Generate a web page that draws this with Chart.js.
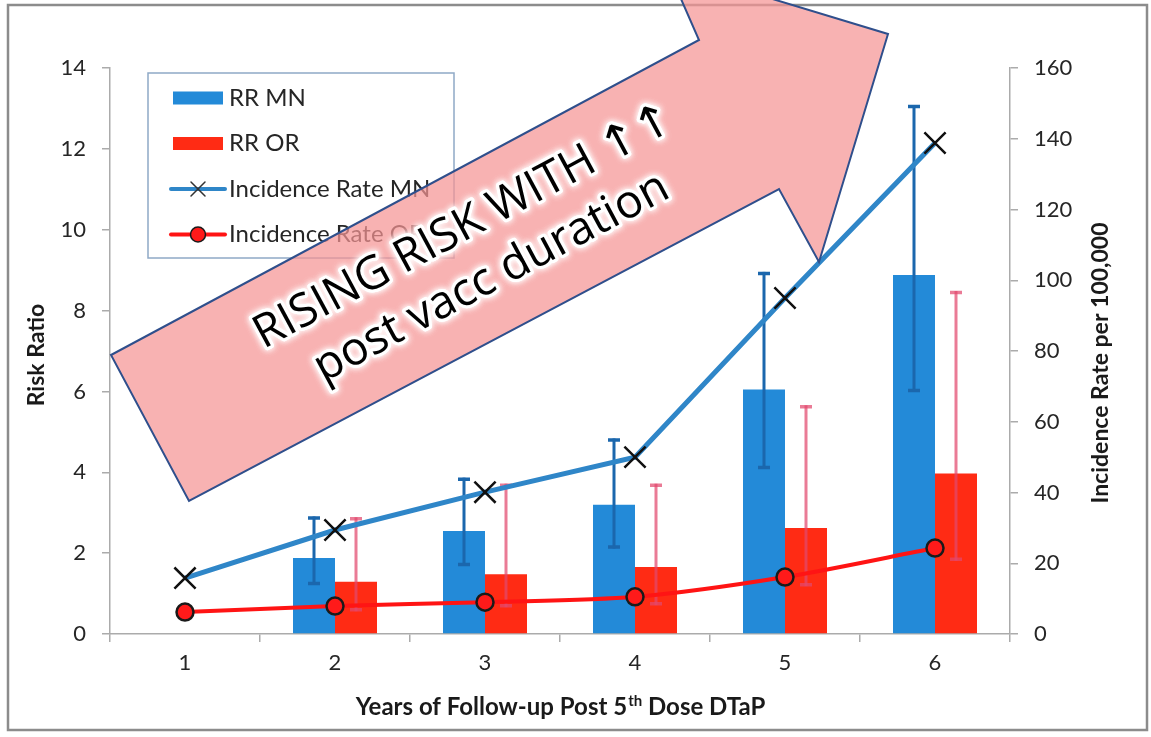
<!DOCTYPE html>
<html>
<head>
<meta charset="utf-8">
<title>Risk ratio and incidence rate by years since 5th DTaP dose</title>
<script src="https://cdn.jsdelivr.net/npm/chart.js@4.4.1/dist/chart.umd.min.js"></script>
<style>
  html, body { margin: 0; padding: 0; background: #ffffff; }
  canvas { display: block; }
</style>
</head>
<body>
<canvas id="chart" width="1151" height="737"></canvas>
<script>
// ---- data -------------------------------------------------------------
const years = ['1', '2', '3', '4', '5', '6'];

const riskRatioMN     = [null, 1.88, 2.55, 3.20, 6.05, 8.88];
const riskRatioMNLow  = [null, 1.25, 1.72, 2.15, 4.12, 6.02];
const riskRatioMNHigh = [null, 2.87, 3.83, 4.80, 8.92, 13.05];

const riskRatioOR     = [null, 1.29, 1.48, 1.66, 2.62, 3.97];
const riskRatioORLow  = [null, 0.60, 0.70, 0.75, 1.22, 1.85];
const riskRatioORHigh = [null, 2.85, 3.68, 3.68, 5.62, 8.45];

const incidenceMN = [15.8, 29.4, 40.1, 50.0, 95.0, 138.8];
const incidenceOR = [6.2, 7.9, 9.0, 10.5, 16.1, 24.3];

const riskTicks      = [0, 2, 4, 6, 8, 10, 12, 14];
const incidenceTicks = [0, 20, 40, 60, 80, 100, 120, 140, 160];

const seriesNames = ['RR MN', 'RR OR', 'Incidence Rate MN', 'Incidence Rate OR'];
const xTitleParts = ['Years of Follow-up Post 5', 'th', ' Dose DTaP'];
const yTitle  = 'Risk Ratio';
const y2Title = 'Incidence Rate per 100,000';
const calloutLines = ['RISING RISK WITH \u2191\u2191', 'post vacc duration'];

// ---- styling ----------------------------------------------------------
const LABEL_FONT = 'Lato, "Open Sans", sans-serif';
const TEXT_COLOR = '#262626';
const AXIS_COLOR = '#ababab';

// whiskers for the risk-ratio bars, drawn right after each bar dataset
const errorBarPlugin = {
  id: 'errorBars',
  afterDatasetDraw(chart, args) {
    const ds = chart.data.datasets[args.index];
    if (!ds.errorLow) return;
    const yScale = chart.scales[ds.yAxisID];
    const ctx = chart.ctx;
    ctx.save();
    ctx.strokeStyle = ds.errorColor;
    ctx.lineCap = 'butt';
    args.meta.data.forEach((bar, i) => {
      const lo = ds.errorLow[i], hi = ds.errorHigh[i];
      if (lo == null || hi == null) return;
      const x = bar.x;
      const yl = yScale.getPixelForValue(lo);
      const yh = yScale.getPixelForValue(hi);
      ctx.lineWidth = 3;
      ctx.beginPath();
      ctx.moveTo(x, yl + 1.5);
      ctx.lineTo(x, yh - 1.5);
      ctx.stroke();
      ctx.lineWidth = 3.5;
      ctx.beginPath();
      ctx.moveTo(x - 6, yh); ctx.lineTo(x + 6, yh);
      ctx.moveTo(x - 6, yl); ctx.lineTo(x + 6, yl);
      ctx.stroke();
    });
    ctx.restore();
  }
};

// legend box, axis titles, outer frame and the callout arrow
const decorPlugin = {
  id: 'decor',
  afterDraw(chart) {
    const ctx = chart.ctx;
    const area = chart.chartArea;

    // legend
    const box = { x: 148, y: 73, w: 306, h: 185 };
    ctx.save();
    ctx.fillStyle = '#ffffff';
    ctx.fillRect(box.x, box.y, box.w, box.h);
    ctx.strokeStyle = '#8fa9c6';
    ctx.lineWidth = 1.5;
    ctx.strokeRect(box.x, box.y, box.w, box.h);
    ctx.font = '24px ' + LABEL_FONT;
    ctx.textBaseline = 'middle';
    ctx.textAlign = 'left';
    chart.data.datasets.forEach((ds, i) => {
      const cy = box.y + 25 + i * 45.5;
      const sx = 173, sw = 50;
      if (ds.type === 'bar') {
        ctx.fillStyle = ds.backgroundColor;
        ctx.fillRect(sx, cy - 6.5, sw, 13);
      } else {
        ctx.strokeStyle = ds.borderColor;
        ctx.lineWidth = 4;
        ctx.lineCap = 'round';
        ctx.beginPath();
        ctx.moveTo(sx - 2, cy); ctx.lineTo(sx + sw + 2, cy);
        ctx.stroke();
        const mx = sx + sw / 2;
        if (ds.pointStyle === 'crossRot') {
          ctx.strokeStyle = '#333';
          ctx.lineWidth = 1.5;
          ctx.beginPath();
          ctx.moveTo(mx - 7, cy - 7); ctx.lineTo(mx + 7, cy + 7);
          ctx.moveTo(mx + 7, cy - 7); ctx.lineTo(mx - 7, cy + 7);
          ctx.stroke();
        } else {
          ctx.fillStyle = ds.pointBackgroundColor;
          ctx.strokeStyle = ds.pointBorderColor;
          ctx.lineWidth = 1.5;
          ctx.beginPath();
          ctx.arc(mx, cy, 7.5, 0, Math.PI * 2);
          ctx.fill();
          ctx.stroke();
        }
      }
      ctx.fillStyle = TEXT_COLOR;
      ctx.fillText(ds.label, 229, cy);
    });
    ctx.restore();

    // axis titles
    ctx.save();
    ctx.fillStyle = '#1a1a1a';
    ctx.font = 'bold 23px ' + LABEL_FONT;
    ctx.textAlign = 'center';
    ctx.textBaseline = 'middle';
    ctx.save();
    ctx.translate(37, (area.top + area.bottom) / 2 + 4);
    ctx.rotate(-Math.PI / 2);
    ctx.fillText(yTitle, 0, 0);
    ctx.restore();
    ctx.save();
    ctx.translate(1101, (area.top + area.bottom) / 2 + 12);
    ctx.rotate(-Math.PI / 2);
    ctx.fillText(y2Title, 0, 0);
    ctx.restore();

    // x title with superscript ordinal
    const big = 'bold 24px ' + LABEL_FONT;
    const small = 'bold 15px ' + LABEL_FONT;
    ctx.textAlign = 'left';
    ctx.textBaseline = 'alphabetic';
    ctx.font = big;
    const w0 = ctx.measureText(xTitleParts[0]).width;
    const w2 = ctx.measureText(xTitleParts[2]).width;
    ctx.font = small;
    const w1 = ctx.measureText(xTitleParts[1]).width;
    let tx = (area.left + area.right) / 2 - (w0 + w1 + w2) / 2;
    const baseY = 715;
    ctx.font = big;
    ctx.fillText(xTitleParts[0], tx, baseY); tx += w0;
    ctx.font = small;
    ctx.fillText(xTitleParts[1], tx + 1, baseY - 9); tx += w1 + 1;
    ctx.font = big;
    ctx.fillText(xTitleParts[2], tx, baseY);
    ctx.restore();

    // outer frame
    ctx.save();
    ctx.strokeStyle = '#8c8c8c';
    ctx.lineWidth = 2.5;
    ctx.strokeRect(8, 5, 1139, 725);
    ctx.restore();

    // callout arrow
    const pts = [
      [111, 355], [699, 40], [667, -33], [888, 34],
      [819, 262], [779, 189], [189, 501]
    ];
    ctx.save();
    ctx.beginPath();
    ctx.moveTo(pts[0][0], pts[0][1]);
    for (let i = 1; i < pts.length; i++) ctx.lineTo(pts[i][0], pts[i][1]);
    ctx.closePath();
    ctx.fillStyle = 'rgba(245, 148, 148, 0.72)';
    ctx.fill();
    ctx.strokeStyle = '#2f4f8c';
    ctx.lineWidth = 2;
    ctx.lineJoin = 'miter';
    ctx.stroke();

    const tail = [(pts[0][0] + pts[6][0]) / 2, (pts[0][1] + pts[6][1]) / 2];
    const ang = Math.atan2(pts[1][1] - pts[0][1], pts[1][0] - pts[0][0]);
    const dx = Math.cos(ang), dy = Math.sin(ang);
    const nx = -dy, ny = dx;
    const along = 372, gap = 29;
    ctx.font = '46px "Open Sans", "DejaVu Sans", sans-serif';
    ctx.textAlign = 'center';
    ctx.textBaseline = 'middle';
    calloutLines.forEach((line, k) => {
      const off = (k === 0 ? -gap : gap);
      const cx = tail[0] + dx * along + nx * off;
      const cy = tail[1] + dy * along + ny * off;
      ctx.save();
      ctx.translate(cx, cy);
      ctx.rotate(ang);
      ctx.shadowColor = 'rgba(255,255,255,1)';
      ctx.shadowBlur = 6;
      ctx.strokeStyle = 'rgba(255,255,255,0.95)';
      ctx.lineWidth = 6;
      ctx.lineJoin = 'round';
      ctx.strokeText(line, 0, 0);
      ctx.strokeText(line, 0, 0);
      ctx.shadowBlur = 0;
      ctx.fillStyle = '#000000';
      ctx.fillText(line, 0, 0);
      ctx.restore();
    });
    ctx.restore();
  }
};

new Chart(document.getElementById('chart'), {
  type: 'bar',
  data: {
    labels: years,
    datasets: [
      {
        type: 'bar', label: seriesNames[0], data: riskRatioMN, yAxisID: 'y',
        backgroundColor: '#238ad8', order: 2,
        categoryPercentage: 0.56, barPercentage: 1.0,
        errorLow: riskRatioMNLow, errorHigh: riskRatioMNHigh, errorColor: '#1b67ad'
      },
      {
        type: 'bar', label: seriesNames[1], data: riskRatioOR, yAxisID: 'y',
        backgroundColor: '#ff2b14', order: 2,
        categoryPercentage: 0.56, barPercentage: 1.0,
        errorLow: riskRatioORLow, errorHigh: riskRatioORHigh, errorColor: 'rgba(226, 72, 110, 0.72)'
      },
      {
        type: 'line', label: seriesNames[2], data: incidenceMN, yAxisID: 'y2',
        borderColor: '#2f86c8', borderWidth: 5, tension: 0, order: 1,
        pointStyle: 'crossRot', pointRadius: 15, pointBorderColor: '#111111',
        pointBorderWidth: 2.5, pointBackgroundColor: 'rgba(0,0,0,0)'
      },
      {
        type: 'line', label: seriesNames[3], data: incidenceOR, yAxisID: 'y2',
        borderColor: '#ff1414', borderWidth: 4, tension: 0.3, order: 0,
        pointStyle: 'circle', pointRadius: 8.5, pointBackgroundColor: '#ff1a1a',
        pointBorderColor: '#1a1a1a', pointBorderWidth: 2.5
      }
    ]
  },
  options: {
    responsive: false,
    animation: false,
    devicePixelRatio: 1,
    layout: { padding: { top: 68, left: 0, right: 0, bottom: 0 } },
    plugins: { legend: { display: false }, tooltip: { enabled: false } },
    scales: {
      x: {
        offset: true,
        grid: { offset: true, drawOnChartArea: false, tickLength: 8, color: AXIS_COLOR, lineWidth: 1.5 },
        border: { color: AXIS_COLOR, width: 1.5 },
        ticks: { font: { family: LABEL_FONT, size: 22 }, color: TEXT_COLOR, padding: 8 },
        afterFit(scale) { scale.height = 103; }
      },
      y: {
        position: 'left', min: 0, max: 14,
        afterBuildTicks(scale) { scale.ticks = riskTicks.map(v => ({ value: v })); },
        grid: { drawOnChartArea: false, tickLength: 8, color: AXIS_COLOR, lineWidth: 1.5 },
        border: { color: AXIS_COLOR, width: 1.5 },
        ticks: { font: { family: LABEL_FONT, size: 22 }, color: TEXT_COLOR, padding: 16 },
        afterFit(scale) { scale.width = 110; }
      },
      y2: {
        position: 'right', min: 0, max: 160,
        afterBuildTicks(scale) { scale.ticks = incidenceTicks.map(v => ({ value: v })); },
        grid: { drawOnChartArea: false, tickLength: 8, color: AXIS_COLOR, lineWidth: 1.5 },
        border: { color: AXIS_COLOR, width: 1.5 },
        ticks: { font: { family: LABEL_FONT, size: 22 }, color: TEXT_COLOR, padding: 16 },
        afterFit(scale) { scale.width = 141; }
      }
    }
  },
  plugins: [errorBarPlugin, decorPlugin]
});
</script>
</body>
</html>
